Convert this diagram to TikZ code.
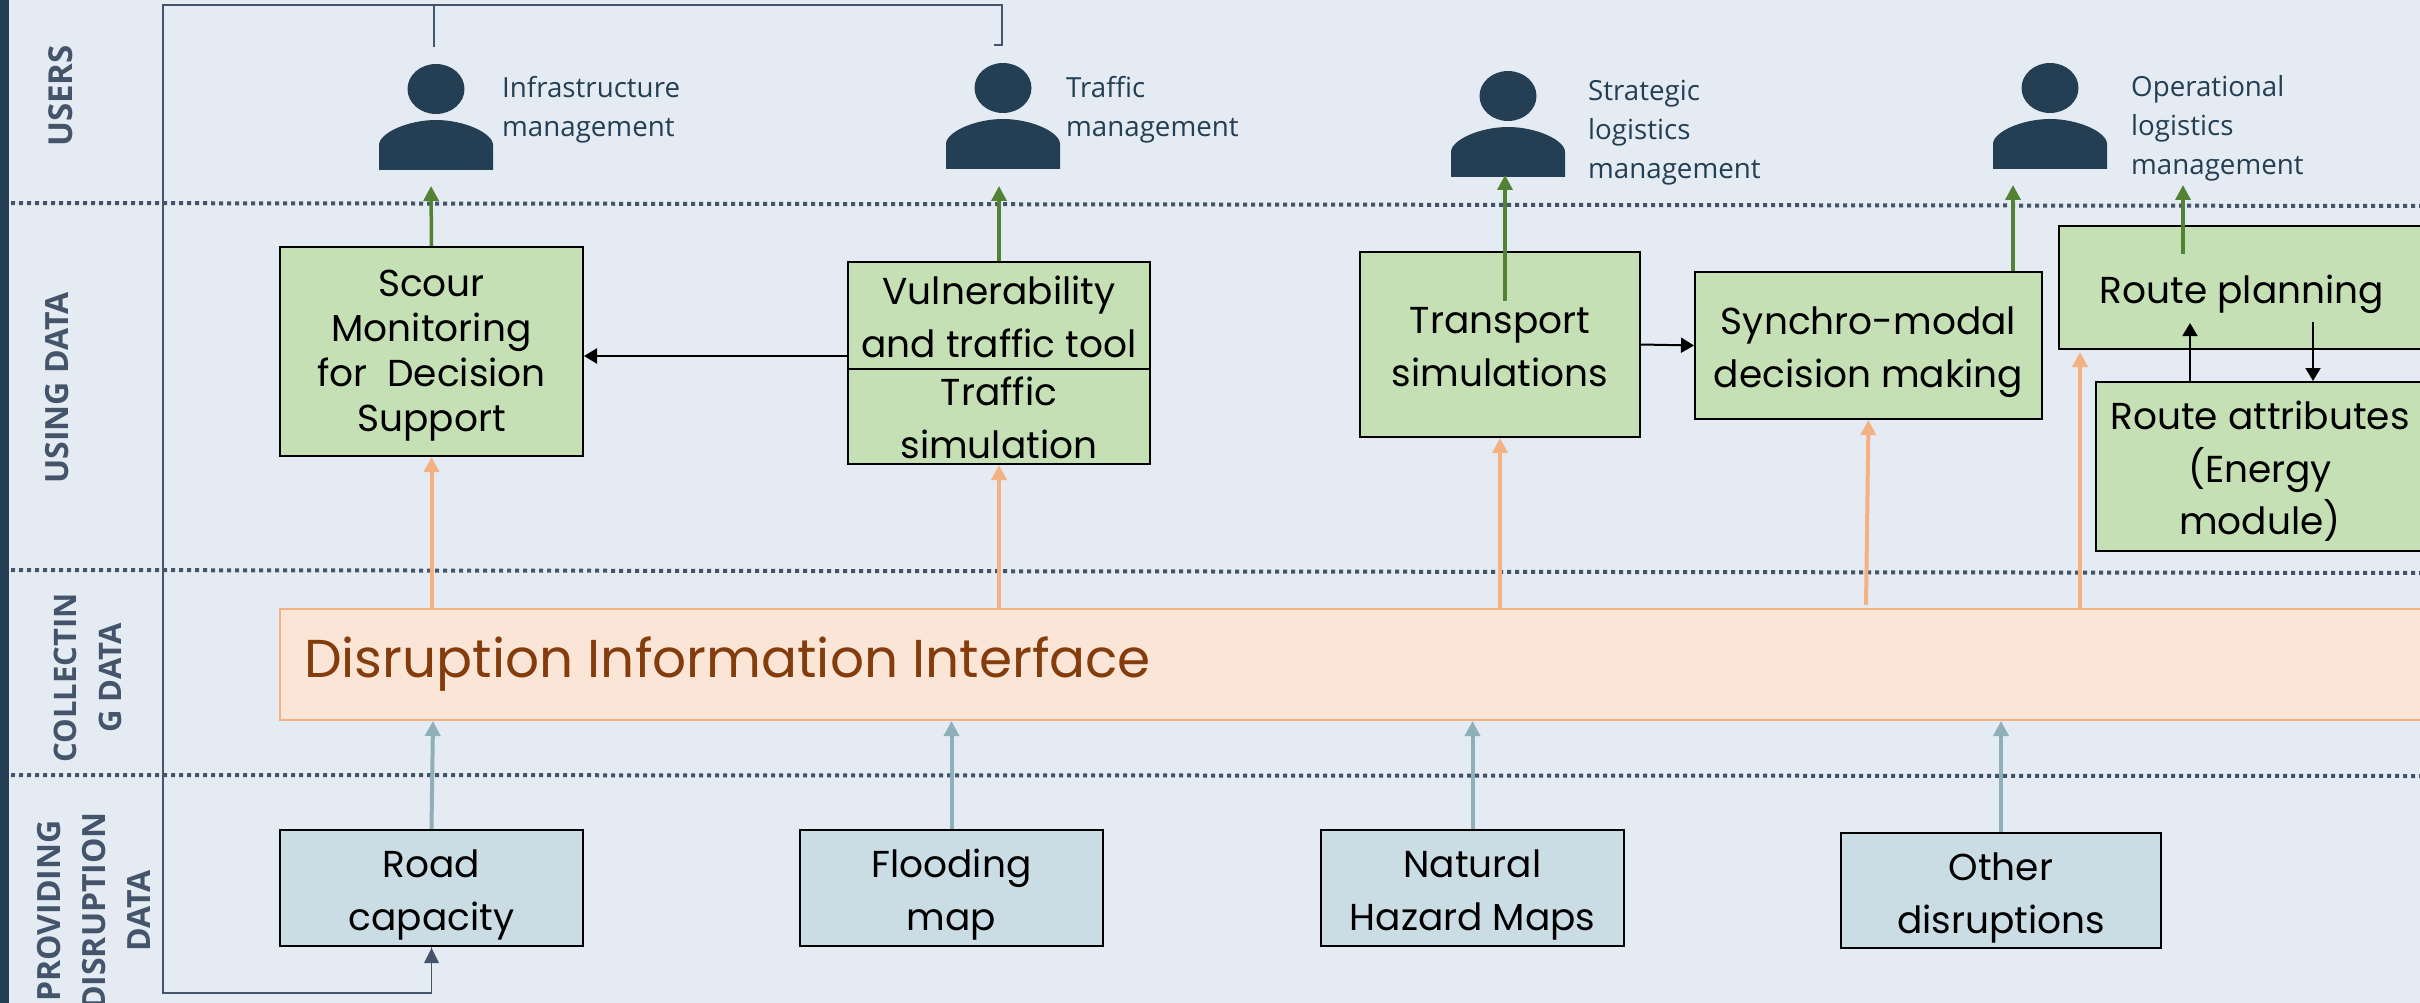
\documentclass[tikz,border=0pt]{standalone}
\usepackage{fontspec}
\usetikzlibrary{arrows.meta}
\newfontfamily\popf{Poppins}
\newfontfamily\opnf{Open Sans}
\definecolor{bgc}{HTML}{E4EBF2}
\definecolor{navy}{HTML}{243F53}
\definecolor{slate}{HTML}{44546A}
\definecolor{grn}{HTML}{C5E0B4}
\definecolor{grnline}{HTML}{548235}
\definecolor{blu}{HTML}{CBDDE4}
\definecolor{bluline}{HTML}{8FAFBA}
\definecolor{org}{HTML}{FBE5D6}
\definecolor{orgline}{HTML}{F4B183}
\definecolor{brn}{HTML}{843C0C}
\newcommand{\usericon}[2]{%
  \fill[navy] (#1,#2) ellipse [x radius=28.5, y radius=25];
  \fill[navy] (#1-57,#2+81) -- (#1-57,#2+56)
     .. controls (#1-57,#2+44) and (#1-28,#2+31) .. (#1,#2+31)
     .. controls (#1+28,#2+31) and (#1+57,#2+44) .. (#1+57,#2+56)
     -- (#1+57,#2+81) -- cycle;}
\newcommand{\ts}[1]{\rule{0pt}{#1pt}}
\tikzset{
  base/.style={draw=black,line width=2pt,inner sep=0pt,align=center,anchor=center,
     font=\popf\fontsize{37.5}{53}\selectfont,text=black},
  greenbox/.style={base,fill=grn},
  bluebox/.style={base,fill=blu},
  lane/.style={draw=slate,line width=4pt,dash pattern=on 4pt off 4pt},
  userlabel/.style={anchor=west,align=left,inner sep=0pt,text=navy,font=\opnf\fontsize{27.7}{39}\selectfont},
  sidelabel/.style={rotate=90,anchor=center,align=center,inner sep=0pt,text=slate,font=\opnf\bfseries\fontsize{32}{45}\selectfont},
  greenarrow/.style={draw=grnline,line width=3.5pt,-{Triangle[width=15pt,length=15pt]}},
  orangearrow/.style={draw=orgline,line width=4pt,-{Triangle[width=15pt,length=15pt]}},
  bluearrow/.style={draw=bluline,line width=4pt,-{Triangle[width=15pt,length=15pt]}},
  blackarrow/.style={draw=black,line width=2pt,-{Triangle[width=15pt,length=13pt]}},
  feedback/.style={draw=slate,line width=1.6pt},
}
\begin{document}
\begin{tikzpicture}[x=1pt,y=-1pt]
\useasboundingbox (0,0) rectangle (2420,1003);
\clip (0,0) rectangle (2420,1003);
\fill[bgc] (0,0) rectangle (2420,1003);
\fill[navy] (0,0) rectangle (9,1003);
% lanes
\coordinate (l1a) at (11,203); \coordinate (l1b) at (2420,206);
\coordinate (l2a) at (11,570); \coordinate (l2b) at (2420,573);
\coordinate (l3a) at (11,775); \coordinate (l3b) at (2420,776);
\draw[lane] (l1a) -- (l1b);
\draw[lane] (l2a) -- (l2b);
\draw[lane] (l3a) -- (l3b);
% side labels
\node[sidelabel,font=\opnf\bfseries\fontsize{33}{45}\selectfont] (sUsers) at (61,96) {USERS};
\node[sidelabel] (sUsing) at (57,388) {USING DATA};
\node[sidelabel,font=\opnf\bfseries\fontsize{31}{45}\selectfont] (sColl) at (87.5,678) {COLLECTIN\\G DATA};
\node[sidelabel] (sProv) at (94,911) {PROVIDING\\DISRUPTION\\DATA};
% users
\usericon{436}{89}
\usericon{1003}{88}
\usericon{1508}{96}
\usericon{2050}{88}
\node[userlabel] (uInfra) at (502,110) {Infrastructure\\management};
\node[userlabel] (uTraffic) at (1066,110) {Traffic\\management};
\node[userlabel] (uStrat) at (1588,133) {Strategic\\logistics\\management};
\node[userlabel] (uOper) at (2131,128) {Operational\\logistics\\management};
% boxes
\node[greenbox,minimum width=303pt,minimum height=209pt,font=\popf\fontsize{37.5}{45}\selectfont] (scour) at (431.5,351.5) {\ts{34}Scour\\Monitoring\\for\ \ Decision\\Support};
\node[greenbox,minimum width=302pt,minimum height=107pt] (vuln) at (999,315.5) {\ts{32}Vulnerability\\and traffic tool};
\node[greenbox,minimum width=302pt,minimum height=95pt] (traf) at (999,416.5) {\ts{32}Traffic\\simulation};
\node[greenbox,minimum width=280pt,minimum height=185pt] (trans) at (1500,344.5) {\ts{31}Transport\\simulations};
\node[greenbox,minimum width=347pt,minimum height=147pt] (sync) at (1868.5,345.5) {\ts{42}Synchro-modal\\decision making};
\node[greenbox,minimum width=400pt,minimum height=123pt] (route) at (2259,287.5) {\phantom{x}};
\node[anchor=center,inner sep=0pt,font=\popf\fontsize{37.5}{53}\selectfont] (routeT) at (2242,294) {Route planning};
\node[greenbox,minimum width=400pt,minimum height=169pt] (attr) at (2296,466.5) {\phantom{x}};
\node[anchor=center,inner sep=0pt,align=center,font=\popf\fontsize{37.5}{52.5}\selectfont] (attrT) at (2260,471.5) {Route attributes\\(Energy\\module)};
\node[draw=orgline,line width=2pt,fill=org,inner sep=0pt,minimum width=2300pt,minimum height=111pt] (dii) at (1430,664.5) {};
\node[anchor=west,inner sep=0pt,text=brn,font=\popf\fontsize{53.3}{60}\selectfont] (diiT) at (304,664) {Disruption Information Interface};
\node[bluebox,minimum width=303pt,minimum height=116pt] (road) at (431.5,888) {\ts{42}Road\\capacity};
\node[bluebox,minimum width=303pt,minimum height=116pt] (flood) at (951.5,888) {\ts{42}Flooding\\map};
\node[bluebox,minimum width=303pt,minimum height=116pt] (natural) at (1472.5,888) {\ts{42}Natural\\Hazard Maps};
\node[bluebox,minimum width=320pt,minimum height=115pt] (other) at (2001,890.5) {\ts{42}Other\\disruptions};
% free ends
\coordinate (g1) at (431,186); \coordinate (g2) at (999,186);
\coordinate (g3a) at (1505,301); \coordinate (g3) at (1505,175);
\coordinate (g4) at (2013,185); \coordinate (g5a) at (2183,254); \coordinate (g5) at (2183,185);
\coordinate (rUp) at (2190,323); \coordinate (rDn) at (2313,322);
\coordinate (o4a) at (1866,605); \coordinate (vy) at (848,356);
% green
\draw[greenarrow] (scour.north) -- (g1);
\draw[greenarrow] (vuln.north) -- (g2);
\draw[greenarrow] (g3a) -- (g3);
\draw[greenarrow] (sync.north -| g4) -- (g4);
\draw[greenarrow] (g5a) -- (g5);
% black
\draw[blackarrow] (vy) -- (scour.east |- vy);
\draw[blackarrow] (trans.east) -- (sync.west);
\draw[blackarrow] (attr.north -| rUp) -- (rUp);
\draw[blackarrow] (rDn) -- (attr.north -| rDn);
% orange
\draw[orangearrow] (dii.north -| scour.south) -- (scour.south);
\draw[orangearrow] (dii.north -| traf.south) -- (traf.south);
\draw[orangearrow] (dii.north -| trans.south) -- (trans.south);
\draw[orangearrow] (o4a) -- (sync.south);
\coordinate (o5) at (2080,352);
\draw[orangearrow] (dii.north -| o5) -- (o5);
% blue
\coordinate (b1) at (433,720);
\draw[bluearrow] (road.north) -- (dii.south -| b1);
\draw[bluearrow] (flood.north) -- (dii.south -| flood.north);
\draw[bluearrow] (natural.north) -- (dii.south -| natural.north);
\draw[bluearrow] (other.north) -- (dii.south -| other.north);
% feedback
\coordinate (fbL) at (163,5); \coordinate (fbR) at (1002,5);
\coordinate (fbRe) at (1002,45); \coordinate (fbRt) at (994,45); \coordinate (fbM) at (434,5); \coordinate (fbMe) at (434,47);
\coordinate (fbB) at (163,993);
\draw[feedback] (fbRt) -- (fbRe) -- (fbR) -- (fbL) -- (fbB) -- (fbB -| road.south) -- (road.south) ;
\fill[slate] (road.south) ++(0,1) -- ++(-7.5,15) -- ++(15,0) -- cycle;
\draw[feedback] (fbM) -- (fbMe);
\end{tikzpicture}
\end{document}
